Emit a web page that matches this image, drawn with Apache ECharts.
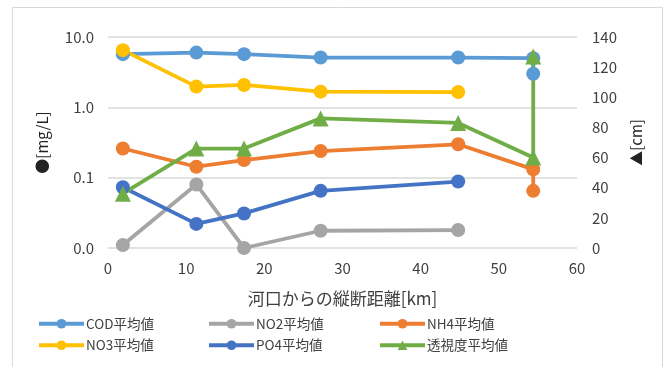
<!DOCTYPE html>
<html>
<head>
<meta charset="utf-8">
<script src="https://cdn.jsdelivr.net/npm/echarts@6/dist/echarts.min.js"></script>
<style>
  html, body { margin: 0; padding: 0; background: #fff; }
  #chart { width: 667px; height: 367px; }
</style>
</head>
<body>
<div id="chart"></div>
<script>
// Longitudinal distance from the river mouth [km]; the last station has two samples
const distKm = [1.9, 11.3, 17.4, 27.2, 44.8, 54.4, 54.4];

// Water quality averages [mg/L] (null = not measured)
const codAvg = [5.7, 6.0, 5.7, 5.1, 5.1, 5.0, 3.0];
const no2Avg = [0.011, 0.080, 0.010, 0.0176, 0.018, null, null];
const nh4Avg = [0.26, 0.143, 0.178, 0.239, 0.298, 0.131, 0.065];
const no3Avg = [6.5, 1.97, 2.08, 1.67, 1.65, null, null];
const po4Avg = [0.073, 0.022, 0.031, 0.065, 0.088, null, null];

// Transparency average [cm]
const transparencyAvg = [36, 66, 66, 86, 83, 60, 127];

const seriesNames = ['COD平均値', 'NO2平均値', 'NH4平均値', 'NO3平均値', 'PO4平均値', '透視度平均値'];
const seriesColors = ['#5B9BD5', '#A5A5A5', '#ED7D31', '#FFC000', '#4472C4', '#70AD47'];

const leftTicks = ['0.0', '0.1', '1.0', '10.0'];
const xTitle = '河口からの縦断距離[km]';
const leftTitle = '●[mg/L]';
const rightTitle = '▲[cm]';

function pairs(values) {
  return distKm.map((d, i) => [d, values[i]]);
}

const textColor = '#404040';
const gridColor = '#D9D9D9';

function lineSeries(idx, values, yAxisIndex, symbol, size) {
  return {
    name: seriesNames[idx],
    type: 'line',
    yAxisIndex: yAxisIndex,
    data: pairs(values),
    symbol: symbol,
    symbolSize: size,
    showAllSymbol: true,
    color: seriesColors[idx],
    lineStyle: { width: 3.8, color: seriesColors[idx] },
    itemStyle: { color: seriesColors[idx] },
    emphasis: { disabled: true },
    animation: false
  };
}

const chart = echarts.init(document.getElementById('chart'), null, { renderer: 'canvas' });

const legendBase = {
  orient: 'vertical',
  top: 317,
  padding: 0,
  itemWidth: 45,
  itemHeight: 12,
  itemGap: 8,
  lineStyle: { width: 4 },
  textStyle: { color: textColor, fontSize: 13.5, fontFamily: 'Noto Sans CJK JP', padding: [0, 0, 0, -3] },
  selectedMode: false
};

chart.setOption({
  backgroundColor: '#ffffff',
  animation: false,
  textStyle: { fontFamily: 'Noto Sans CJK JP' },
  graphic: [{
    type: 'rect',
    shape: { x: 12.5, y: 7.5, width: 650, height: 380 },
    style: { fill: 'none', stroke: gridColor, lineWidth: 1 },
    silent: true
  }],
  grid: { left: 108, right: 90, top: 37, bottom: 119 },
  legend: [
    Object.assign({}, legendBase, { left: 37, data: [seriesNames[0], seriesNames[3]] }),
    Object.assign({}, legendBase, { left: 207, data: [seriesNames[1], seriesNames[4]] }),
    Object.assign({}, legendBase, { left: 378, data: [seriesNames[2], seriesNames[5]] })
  ],
  xAxis: {
    type: 'value',
    min: 0,
    max: 60,
    interval: 10,
    name: xTitle,
    nameLocation: 'middle',
    nameGap: 42,
    nameTextStyle: { color: textColor, fontSize: 17 },
    axisLine: { show: false },
    axisTick: { show: false },
    splitLine: { show: false },
    axisLabel: { color: textColor, fontSize: 15, margin: 13 }
  },
  yAxis: [{
    type: 'log',
    logBase: 10,
    min: 0.01,
    max: 10,
    position: 'left',
    name: leftTitle,
    nameLocation: 'middle',
    nameRotate: 90,
    nameGap: 58,
    nameTextStyle: { color: '#222', fontSize: 15 },
    axisLine: { show: false },
    axisTick: { show: false },
    splitLine: { show: true, lineStyle: { color: gridColor, width: 1.5 } },
    axisLabel: {
      color: textColor,
      fontSize: 15,
      margin: 14,
      formatter: function (v) {
        const k = Math.round(Math.log10(v)) + 2;
        return leftTicks[k] !== undefined ? leftTicks[k] : '';
      }
    }
  }, {
    type: 'value',
    min: 0,
    max: 140,
    interval: 20,
    position: 'right',
    name: rightTitle,
    nameLocation: 'middle',
    nameRotate: 90,
    nameGap: 52,
    nameTextStyle: { color: '#222', fontSize: 15 },
    axisLine: { show: false },
    axisTick: { show: false },
    splitLine: { show: false },
    axisLabel: { color: textColor, fontSize: 15, margin: 15 }
  }],
  series: [
    lineSeries(0, codAvg, 0, 'circle', 14),
    lineSeries(1, no2Avg, 0, 'circle', 14),
    lineSeries(2, nh4Avg, 0, 'circle', 14),
    lineSeries(3, no3Avg, 0, 'circle', 14),
    lineSeries(4, po4Avg, 0, 'circle', 14),
    lineSeries(5, transparencyAvg, 1, 'triangle', 16)
  ]
});
</script>
</body>
</html>
